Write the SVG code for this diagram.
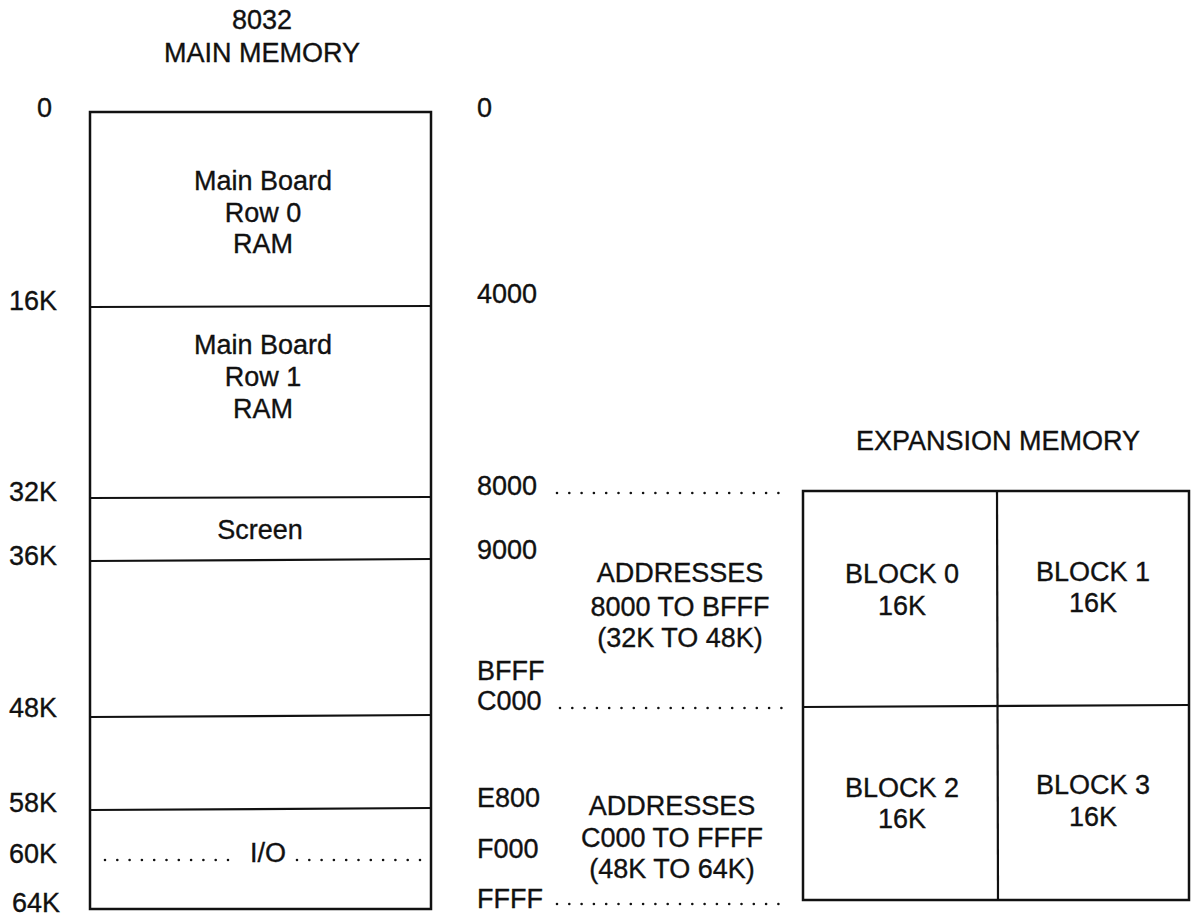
<svg xmlns="http://www.w3.org/2000/svg" width="1192" height="919" viewBox="0 0 1192 919">
<style>
text{font-family:"Liberation Sans",Arial,sans-serif;font-size:27px;fill:#111;stroke:#111;stroke-width:0.35}
.c{text-anchor:middle}
.box{fill:none;stroke:#111;stroke-width:2.5}
.div{stroke:#111;stroke-width:2.2}
.dots{stroke:#111;stroke-width:2.6;stroke-linecap:round;stroke-dasharray:0 12.3}
</style>
<rect width="1192" height="919" fill="#fff"/>
<g id="main-title">
<text class="c" x="262" y="29">8032</text>
<text class="c" x="262" y="62">MAIN MEMORY</text>
</g>
<g id="main-labels">
<text x="37" y="117">0</text>
<text x="9" y="310">16K</text>
<text x="9" y="501">32K</text>
<text x="9" y="565">36K</text>
<text x="9" y="717">48K</text>
<text x="9" y="812">58K</text>
<text x="9" y="863">60K</text>
<text x="12" y="912">64K</text>
</g>
<g id="main-memory">
<rect class="box" x="90" y="112" width="341" height="797"/>
<line class="div" x1="90" y1="307" x2="431" y2="306"/>
<line class="div" x1="90" y1="498" x2="431" y2="497"/>
<line class="div" x1="90" y1="561" x2="431" y2="559"/>
<line class="div" x1="90" y1="717" x2="431" y2="715"/>
<line class="div" x1="90" y1="810" x2="431" y2="808"/>
</g>
<g id="row0">
<text class="c" x="263" y="190">Main Board</text>
<text class="c" x="263" y="222">Row 0</text>
<text class="c" x="263" y="253">RAM</text>
</g>
<g id="row1">
<text class="c" x="263" y="354">Main Board</text>
<text class="c" x="263" y="386">Row 1</text>
<text class="c" x="263" y="418">RAM</text>
</g>
<g id="screen">
<text class="c" x="260" y="539">Screen</text>
</g>
<g id="io">
<line class="dots" x1="105" y1="860" x2="240" y2="860"/>
<text class="c" x="268" y="862">I/O</text>
<line class="dots" x1="297" y1="860" x2="428" y2="860"/>
</g>
<g id="addr-labels">
<text x="477" y="117">0</text>
<text x="477" y="303">4000</text>
<text x="477" y="495">8000</text>
<text x="477" y="559">9000</text>
<text x="477" y="680">BFFF</text>
<text x="477" y="710">C000</text>
<text x="477" y="807">E800</text>
<text x="477" y="858">F000</text>
<text x="477" y="908">FFFF</text>
</g>
<g id="connectors">
<line class="dots" x1="557" y1="493" x2="783" y2="493"/>
<line class="dots" x1="560" y1="708" x2="786" y2="708"/>
<line class="dots" x1="557" y1="904" x2="783" y2="904"/>
</g>
<g id="range1">
<text class="c" x="680" y="582">ADDRESSES</text>
<text class="c" x="680" y="616">8000 TO BFFF</text>
<text class="c" x="680" y="647">(32K TO 48K)</text>
</g>
<g id="range2">
<text class="c" x="672" y="815">ADDRESSES</text>
<text class="c" x="672" y="847">C000 TO FFFF</text>
<text class="c" x="672" y="878">(48K TO 64K)</text>
</g>
<g id="exp-title">
<text class="c" x="998" y="450">EXPANSION MEMORY</text>
</g>
<g id="expansion">
<rect class="box" x="803" y="491" width="386" height="409"/>
<line class="div" x1="997" y1="491" x2="998" y2="900"/>
<line class="div" x1="803" y1="707" x2="1189" y2="705"/>
</g>
<g id="block0">
<text class="c" x="902" y="583">BLOCK 0</text>
<text class="c" x="902" y="615">16K</text>
</g>
<g id="block1">
<text class="c" x="1093" y="581">BLOCK 1</text>
<text class="c" x="1093" y="612">16K</text>
</g>
<g id="block2">
<text class="c" x="902" y="797">BLOCK 2</text>
<text class="c" x="902" y="828">16K</text>
</g>
<g id="block3">
<text class="c" x="1093" y="794">BLOCK 3</text>
<text class="c" x="1093" y="826">16K</text>
</g>
</svg>
